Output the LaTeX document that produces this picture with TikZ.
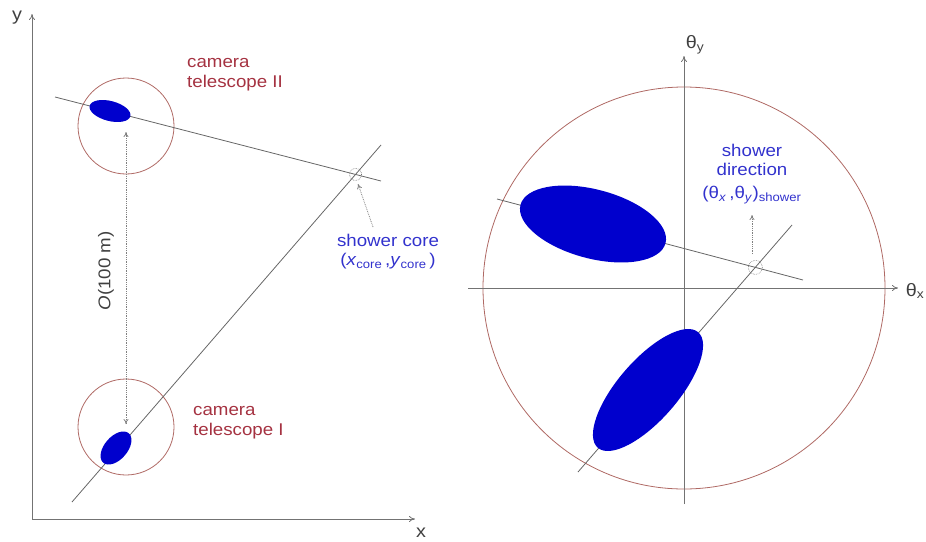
\documentclass[tikz,border=0pt]{standalone}
\usepackage{fontspec}
\setmainfont[FakeStretch=1.1]{Liberation Sans}
\usetikzlibrary{arrows.meta}

\definecolor{camred}{RGB}{165,50,65}
\definecolor{ringred}{RGB}{175,105,100}
\definecolor{showblue}{RGB}{50,50,205}
\definecolor{imgblue}{RGB}{0,0,205}

\begin{document}
\begin{tikzpicture}[x=1pt, y=-1pt,
    axis/.style={draw=black!55, line width=0.8pt, -{To[length=6pt,width=6pt]}},
    track/.style={draw=black!60, line width=0.8pt},
    ring/.style={draw=ringred, line width=0.8pt},
    hit/.style={draw=black!55, densely dotted, line width=0.6pt},
    shower/.style={fill=imgblue},
    pointer/.style={draw=black!50, densely dotted, line width=0.8pt},
    camlabel/.style={text=camred, align=left, anchor=west, inner sep=0pt,
                     font=\fontsize{17}{20}\selectfont},
    showlabel/.style={text=showblue, align=center, inner sep=0pt,
                      font=\fontsize{17}{19}\selectfont},
    axlabel/.style={text=black!75, inner sep=0pt, font=\fontsize{18}{20}\selectfont}
]
\useasboundingbox (0,0) rectangle (926,541);

% ---- ground plane ----
\coordinate (origin) at (32,519);
\coordinate (xend) at (415,519);
\coordinate (yend) at (32,14);
\draw[axis] (origin) -- (xend);
\draw[axis] (origin) -- (yend);
\node[axlabel] (xlab) at (421,533) {x};
\node[axlabel] (ylab) at (17,18) {y};

% telescopes
\draw[ring] (126,126) circle (48);
\draw[ring] (126,427) circle (48);

% image axes projected on the ground
\coordinate (trkIIa) at (55,97);
\coordinate (trkIIb) at (381,181);
\coordinate (trkIa) at (72,502);
\coordinate (trkIb) at (381,145);
\draw[track] (trkIIa) -- (trkIIb);
\draw[track] (trkIa) -- (trkIb);
\coordinate (core) at (intersection of trkIIa--trkIIb and trkIa--trkIb);
\draw[hit] (core) circle (6);

% camera images
\fill[shower, rotate around={-14.5:(110,111)}] (110,111) ellipse [x radius=21, y radius=10];
\fill[shower, rotate around={49:(116,448)}] (116,448) ellipse [x radius=19.5, y radius=11.5];

% distance between telescopes
\coordinate (topII) at (126,132);
\coordinate (topI) at (126,424);
\draw[pointer, {To[length=5pt,width=5pt]}-{To[length=5pt,width=5pt]}] (topII) -- (topI);
\node[axlabel, rotate=90, font=\fontsize{17}{20}\selectfont] (dist) at (106,271) {\textit{O}(100 m)};

\node[camlabel] (camII) at (187,75) {camera\\telescope II};
\node[camlabel] (camI) at (193,423) {camera\\telescope I};

\node[showlabel] (corelab) at (388,252) {shower core\\(\textit{x}\textsubscript{core}\,,\textit{y}\textsubscript{core}\,)};
\coordinate (coretail) at (373,227);
\coordinate (coretip) at (358,184);
\draw[pointer, -{To[length=5pt,width=5pt]}] (coretail) -- (coretip);

% ---- camera plane ----
\coordinate (ctr) at (684,288);
\draw[ring] (ctr) circle (201);
\coordinate (txa) at (468,288);
\coordinate (txb) at (898,288);
\coordinate (tya) at (684,504);
\coordinate (tyb) at (684,56);
\draw[axis] (txa) -- (txb);
\draw[axis] (tya) -- (tyb);
\node[axlabel] (thx) at (915,291) {θ\textsubscript{x}};
\node[axlabel] (thy) at (695,45) {θ\textsubscript{y}};

\coordinate (majIIa) at (497,199);
\coordinate (majIIb) at (803,280);
\coordinate (majIa) at (578,472);
\coordinate (majIb) at (792,225);
\draw[track] (majIIa) -- (majIIb);
\draw[track] (majIa) -- (majIb);
\coordinate (dir) at (intersection of majIIa--majIIb and majIa--majIb);
\draw[hit] (dir) circle (7);

\fill[shower, rotate around={-14.8:(593,224)}] (593,224) ellipse [x radius=75, y radius=34.5];
\fill[shower, rotate around={49:(648,390)}] (648,390) ellipse [x radius=76.5, y radius=30];

\node[showlabel] (dirlab) at (752,160) {shower\\direction};
\node[showlabel] (dirval) at (752,195) {(θ\textsubscript{\textit{x}}\,,θ\textsubscript{\textit{y}})\textsubscript{shower}};
\coordinate (dirtail) at (752,254);
\coordinate (dirtip) at (752,215);
\draw[pointer, -{To[length=5pt,width=5pt]}] (dirtail) -- (dirtip);
\end{tikzpicture}
\end{document}
